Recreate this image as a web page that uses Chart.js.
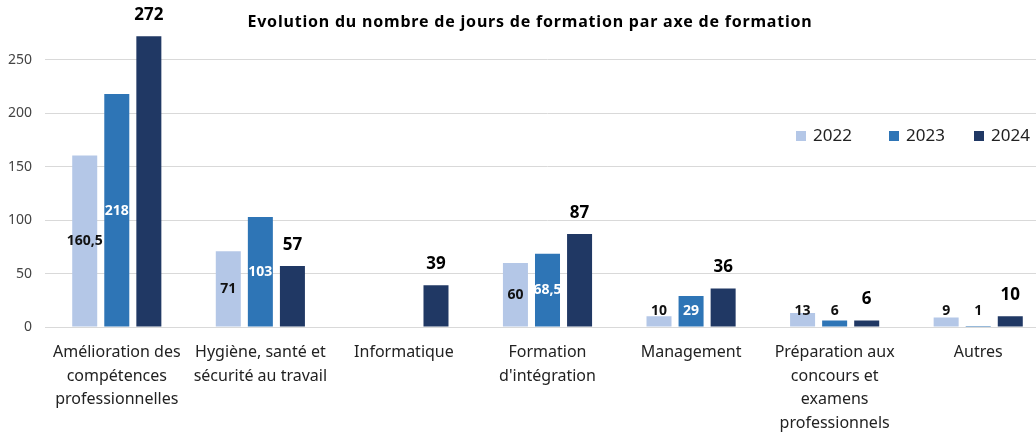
<!DOCTYPE html>
<html lang="fr">
<head>
<meta charset="utf-8">
<script src="https://cdn.jsdelivr.net/npm/chart.js@4.4.1/dist/chart.umd.min.js"></script>
<style>
    html, body { margin: 0; padding: 0; background: #ffffff; overflow: hidden; }
    #wrap { position: relative; width: 1050px; height: 432px; }
    #titre {
        position: absolute; left: 0; width: 1060px; top: 10px;
        text-align: center; font-family: 'Noto Sans', sans-serif;
        font-weight: bold; font-size: 16px; letter-spacing: 0.8px; color: #000;
        line-height: 22px;
    }
    #legende span.item {
        position: absolute; top: 124px;
        font-family: 'Noto Sans', sans-serif; font-size: 17px; color: #222;
        white-space: nowrap; line-height: 22px;
    }
    #legende span.carre { display: inline-block; width: 10px; height: 10px; margin-right: 7px; }
</style>
</head>
<body>
<div id="wrap">
    <canvas id="chartFormation" width="1050" height="432"></canvas>
    <div id="titre">Evolution du nombre de jours de formation par axe de formation</div>
    <div id="legende"></div>
</div>
<script>
var categories = [
    ['Amélioration des', 'compétences', 'professionnelles'],
    ['Hygiène, santé et', 'sécurité au travail'],
    ['Informatique'],
    ['Formation', "d'intégration"],
    ['Management'],
    ['Préparation aux', 'concours et', 'examens', 'professionnels'],
    ['Autres']
];
var annees = ['2022', '2023', '2024'];
var valeurs2022 = [160.5, 71, null, 60, 10, 13, 9];
var valeurs2023 = [218, 103, null, 68.5, 29, 6, 1];
var valeurs2024 = [272, 57, 39, 87, 36, 6, 10];
var yTicks = [0, 50, 100, 150, 200, 250];

var couleurs = ['#B4C7E7', '#2E75B6', '#203864'];
var legendeX = [796, 889, 974];

function formatFr(v) {
    return String(v).replace('.', ',');
}

// etiquettes de valeurs (pas de plugin datalabels disponible)
var etiquettesPlugin = {
    id: 'etiquettes',
    afterDatasetsDraw: function (chart) {
        var ctx = chart.ctx;
        var zeroY = chart.scales.y.getPixelForValue(0);
        ctx.save();
        ctx.textAlign = 'center';
        ctx.textBaseline = 'middle';
        chart.data.datasets.forEach(function (ds, i) {
            var meta = chart.getDatasetMeta(i);
            meta.data.forEach(function (bar, j) {
                var v = ds.data[j];
                if (v === null || v === undefined) return;
                var x = bar.x;
                var y;
                if (i === 2) {
                    ctx.font = "bold 17px 'Noto Sans', sans-serif";
                    ctx.fillStyle = '#000000';
                    y = bar.y - 21;
                } else {
                    ctx.font = "bold 14px 'Noto Sans', sans-serif";
                    var centre = (bar.y + zeroY) / 2;
                    if (i === 1 && v > 20) {
                        ctx.fillStyle = '#ffffff';
                        y = centre;
                    } else {
                        ctx.fillStyle = '#111111';
                        y = Math.min(centre, zeroY - 16);
                    }
                }
                ctx.fillText(formatFr(v), x, y);
            });
        });
        ctx.restore();
    }
};

var legende = document.getElementById('legende');
annees.forEach(function (a, i) {
    legende.innerHTML += '<span class="item" style="left:' + legendeX[i] + 'px"><span class="carre" style="background:' + couleurs[i] + '"></span>' + a + '</span>';
});

var ctx = document.getElementById('chartFormation').getContext('2d');
new Chart(ctx, {
    type: 'bar',
    data: {
        labels: categories,
        datasets: [
            { label: annees[0], data: valeurs2022, backgroundColor: couleurs[0] },
            { label: annees[1], data: valeurs2023, backgroundColor: couleurs[1] },
            { label: annees[2], data: valeurs2024, backgroundColor: couleurs[2] }
        ]
    },
    plugins: [etiquettesPlugin],
    options: {
        responsive: false,
        animation: false,
        datasets: {
            bar: {
                barPercentage: 0.78,
                categoryPercentage: 0.67,
                borderWidth: 0
            }
        },
        layout: { padding: { left: 0, top: 3, right: 0, bottom: 0 } },
        plugins: {
            legend: { display: false },
            tooltip: { enabled: false },
            title: { display: false }
        },
        scales: {
            y: {
                min: 0,
                max: 286,
                afterBuildTicks: function (axis) {
                    axis.ticks = yTicks.map(function (v) { return { value: v }; });
                },
                afterFit: function (axis) {
                    axis.width = 45;
                },
                ticks: {
                    font: { family: "'Noto Sans', sans-serif", size: 14 },
                    color: '#444444',
                    padding: 13
                },
                grid: { color: '#d9d9d9', drawTicks: false },
                border: { display: false }
            },
            x: {
                afterFit: function (axis) {
                    axis.height = 105;
                },
                ticks: {
                    font: { family: "'Noto Sans', sans-serif", size: 16, lineHeight: 1.47 },
                    color: '#222222',
                    maxRotation: 0,
                    autoSkip: false,
                    padding: 14
                },
                grid: { display: false, drawTicks: false },
                border: { color: '#d9d9d9' }
            }
        }
    }
});
</script>
</body>
</html>
